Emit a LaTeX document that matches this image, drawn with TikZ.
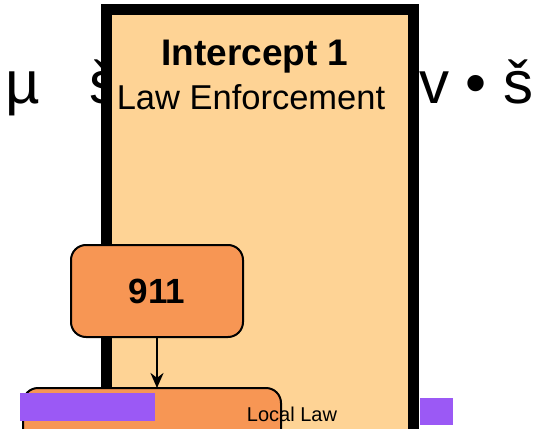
\documentclass[tikz,border=0pt]{standalone}
\usepackage{fontspec}
\setmainfont{Liberation Sans}
\usetikzlibrary{positioning,arrows,arrows.meta}
\definecolor{panelfill}{HTML}{FED395}
\definecolor{boxfill}{HTML}{F79654}
\definecolor{glitch}{HTML}{9B59F5}

\begin{document}
\begin{tikzpicture}[x=1pt,y=-1pt]
	\tikzset{panel/.style={draw,line width=11pt,fill=panelfill,inner sep=0pt,outer sep=0pt}}
	\tikzset{box/.style={draw,line width=2pt,fill=boxfill,rounded corners=15pt,inner sep=0pt,outer sep=0pt}}
	\tikzset{bigglyph/.style={font=\fontsize{60}{60}\selectfont,anchor=base west,inner sep=0pt}}
	\useasboundingbox (0,0) rectangle (543,428);
	% garbled heading behind the panel
	\node[bigglyph] (mu) at (5,103) {µ};
	\node[bigglyph] (s1) at (89,103) {š};
	\node[bigglyph] (vbs) at (419,103) {v • š};
	% intercept panel
	\node[panel, minimum width=307pt, minimum height=440pt, anchor=north] (panel) at (259.5,10) {};
	\node[font=\fontsize{37}{37}\selectfont\bfseries, anchor=base] (title) at (255,66) {Intercept 1};
	\node[font=\fontsize{34.5}{34.5}\selectfont, anchor=base] (sub) at (251,109) {Law Enforcement};
	% boxes
	\node[box, minimum width=172pt, minimum height=92pt, font=\fontsize{35}{35}\selectfont\bfseries] (n911) at (157,291) {911};
	\node[box, minimum width=258pt, minimum height=80pt, anchor=north] (local) at (152,388) {};
	\fill[glitch] (20,393) rectangle (155,421);
	\fill[glitch] (420,398) rectangle (453,425);
	\node[font=\fontsize{20}{20}\selectfont, anchor=base, inner sep=1pt] (locallaw) at (292,421) {Local Law};
	\draw[-{Stealth[length=15pt,width=13pt]},line width=2.4pt]
		(n911.south) -- (n911.south |- local.north);
\end{tikzpicture}
\end{document}
